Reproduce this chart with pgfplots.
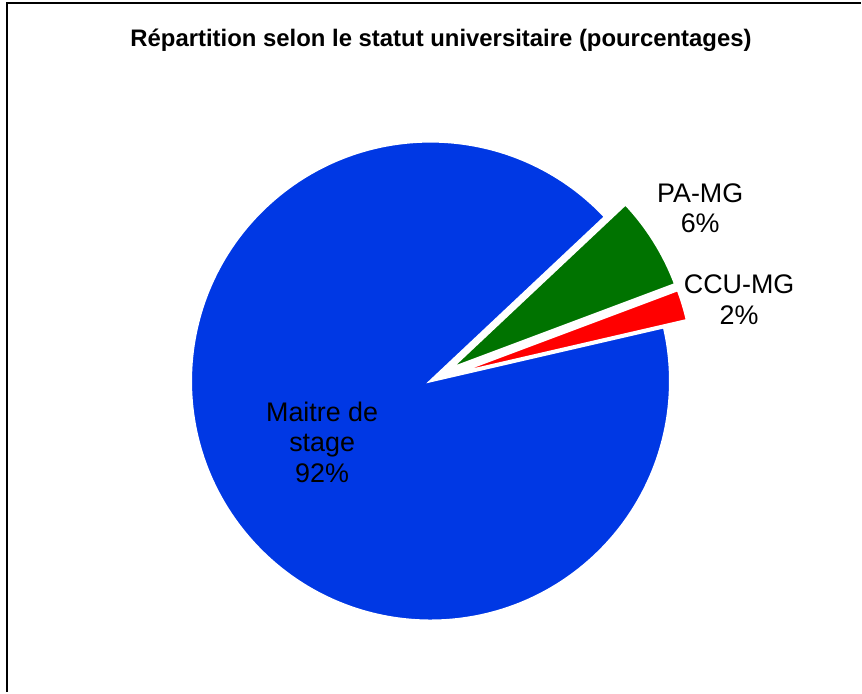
\documentclass[border=0pt]{standalone}
\usepackage{pgfplots}
\pgfplotsset{compat=1.18}
\usepackage{pgfplotstable}
\usepackage{fontspec}
\setmainfont{Liberation Sans}
\definecolor{pieblue}{RGB}{0,56,228}
\definecolor{piegreen}{RGB}{0,115,0}
\definecolor{piered}{RGB}{255,0,0}

% values in percent, explode distance in px
\pgfplotstableread{
label value explode
CCU-MG 2.1 24
PA-MG 6.3 24
Maitre 91.6 0
}\piedata

\begin{document}
\begin{tikzpicture}
\pgfplotstablegetelem{0}{value}\of\piedata \let\vA\pgfplotsretval
\pgfplotstablegetelem{1}{value}\of\piedata \let\vB\pgfplotsretval
\pgfplotstablegetelem{2}{value}\of\piedata \let\vC\pgfplotsretval
\pgfplotstablegetelem{0}{explode}\of\piedata \let\eA\pgfplotsretval
\pgfplotstablegetelem{1}{explode}\of\piedata \let\eB\pgfplotsretval
\pgfplotstablegetelem{2}{explode}\of\piedata \let\eC\pgfplotsretval
\pgfmathsetmacro\aA{13}
\pgfmathsetmacro\aB{\aA+\vA*3.6}
\pgfmathsetmacro\aC{\aB+\vB*3.6}
\pgfmathsetmacro\aD{\aC+\vC*3.6}
\pgfmathsetmacro\mA{(\aA+\aB)/2}
\pgfmathsetmacro\mB{(\aB+\aC)/2}
\pgfmathsetmacro\mC{(\aC+\aD)/2}
\begin{axis}[
  x=1bp, y=1bp,
  xmin=0, xmax=862, ymin=0, ymax=693,
  hide axis, clip=false, enlargelimits=false,
]
\path (axis cs:0,0) rectangle (axis cs:862,693);
% frame
\draw[line width=2bp, black] (axis cs:7,0) -- (axis cs:7,690) -- (axis cs:862,690);
% slices
\filldraw[fill=pieblue, draw=white, line width=2.5bp, line join=miter]
  ([shift={(\mC:\eC bp)}]axis cs:431,311.5) -- ++(\aC:240bp)
  arc[start angle=\aC, end angle=\aD, radius=240bp] -- cycle;
\filldraw[fill=piered, draw=white, line width=2.5bp, line join=miter]
  ([shift={(\mA:\eA bp)}]axis cs:431,311.5) -- ++(\aA:240bp)
  arc[start angle=\aA, end angle=\aB, radius=240bp] -- cycle;
\filldraw[fill=piegreen, draw=white, line width=2.5bp, line join=miter]
  ([shift={(\mB:\eB bp)}]axis cs:431,311.5) -- ++(\aB:240bp)
  arc[start angle=\aB, end angle=\aC, radius=240bp] -- cycle;
% title
\node[anchor=base, font=\bfseries\fontsize{24}{28}\selectfont, inner sep=0pt]
  at (axis cs:441.5,646) {Répartition selon le statut universitaire (pourcentages)};
% labels
\begin{scope}[every node/.style={anchor=base, inner sep=0pt, font=\fontsize{27}{32}\selectfont}]
\node at (axis cs:701,490) {PA-MG};
\node at (axis cs:701,460) {6\%};
\node at (axis cs:740,399) {CCU-MG};
\node at (axis cs:740,368) {2\%};
\node at (axis cs:322.5,271) {Maitre de};
\node at (axis cs:322.5,240.5) {stage};
\node at (axis cs:322.5,210) {92\%};
\end{scope}
\end{axis}
\end{tikzpicture}
\end{document}
